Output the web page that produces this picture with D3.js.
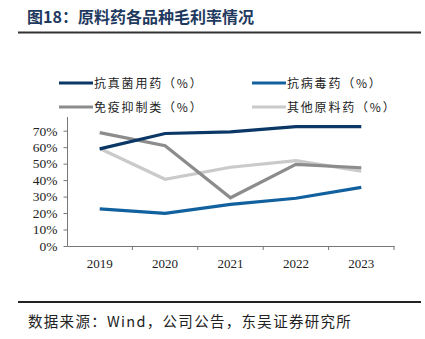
<!DOCTYPE html>
<html><head><meta charset="utf-8">
<script src="https://cdn.jsdelivr.net/npm/d3@7"></script>
<style>body{margin:0;background:#fff}</style>
</head><body>
<svg id="c" width="425" height="339"></svg>
<script>
const years = ["2019","2020","2021","2022","2023"];
const antifungal = [59, 68.3, 69.3, 72.5, 72.5];
const antiviral = [22.5, 19.8, 25.3, 29, 35.6];
const immuno = [68.8, 60.9, 29.3, 49.6, 47.5];
const other = [59.2, 40.5, 47.8, 51.8, 45.5];
const seriesNames = ["抗真菌用药（%）","抗病毒药（%）","免疫抑制类（%）","其他原料药（%）"];
const yTicks = [0,10,20,30,40,50,60,70];
const colors = ["#0a3766","#12619f","#8c8c8c","#cacaca"];
const seriesData = [antifungal, antiviral, immuno, other];

const svg = d3.select("#c");
const serif = "'Liberation Serif','DejaVu Serif',serif";
const cjk = "'Noto Sans CJK SC',sans-serif";

svg.append("text").attr("x",27).attr("y",23).attr("font-family",cjk).attr("font-weight","bold")
  .attr("font-size",16).attr("fill","#1f3a60").text("图18：原料药各品种毛利率情况");
svg.append("line").attr("x1",18).attr("x2",421).attr("y1",32.5).attr("y2",32.5).attr("stroke","#333").attr("stroke-width",2);

const x = d3.scaleBand().domain(years).range([67,394]);
const y = d3.scaleLinear().domain([0,70]).range([246,130.7]);

// axes
const xAxis = svg.append("g").attr("transform","translate(0,246)")
  .call(d3.axisBottom(x).tickSize(0).tickPadding(13));
xAxis.select(".domain").attr("stroke","#777");
xAxis.selectAll("text").attr("font-family",serif).attr("font-size",13).attr("fill","#222");
// tick marks at band boundaries
svg.append("g").selectAll("line").data(years.slice(1).concat(["end"])).join("line")
  .attr("x1",(d,i)=> i<years.length-1 ? x(d) : x.range()[1])
  .attr("x2",(d,i)=> i<years.length-1 ? x(d) : x.range()[1])
  .attr("y1",246).attr("y2",250).attr("stroke","#777");

const yAxis = svg.append("g").attr("transform","translate(67.5,0)")
  .call(d3.axisLeft(y).tickValues(yTicks).tickSize(4).tickPadding(6).tickFormat(d=>d+"%"));
yAxis.select(".domain").remove();
yAxis.selectAll("line").attr("stroke","#777");
yAxis.selectAll("text").attr("font-family",serif).attr("font-size",13.5).attr("fill","#222");
svg.append("line").attr("x1",67.5).attr("x2",67.5).attr("y1",117).attr("y2",246).attr("stroke","#777");

const line = d3.line().x((d,i)=>x(years[i])+x.bandwidth()/2).y(d=>y(d));
[3,2,1,0].forEach(k=>{
  svg.append("path").attr("d",line(seriesData[k])).attr("fill","none")
    .attr("stroke",colors[k]).attr("stroke-width",3.2);
});

// legend
const legPos = [[59,83],[252,83],[59,107],[252,107]];
seriesNames.forEach((n,i)=>{
  const [lx,ly] = legPos[i];
  svg.append("line").attr("x1",lx).attr("x2",lx+34).attr("y1",ly).attr("y2",ly)
    .attr("stroke",colors[i]).attr("stroke-width",3.2);
  svg.append("text").attr("x",lx+35).attr("y",ly+4.5).attr("font-family",cjk)
    .attr("font-size",12).attr("letter-spacing",1.8).attr("fill","#222").text(n);
});

svg.append("line").attr("x1",18).attr("x2",421).attr("y1",302).attr("y2",302).attr("stroke","#222").attr("stroke-width",1.8);
svg.append("text").attr("x",28).attr("y",327).attr("font-family",cjk).attr("font-size",14.5)
  .attr("letter-spacing",1.3).attr("fill","#222").text("数据来源：Wind，公司公告，东吴证券研究所");
</script>
</body></html>
